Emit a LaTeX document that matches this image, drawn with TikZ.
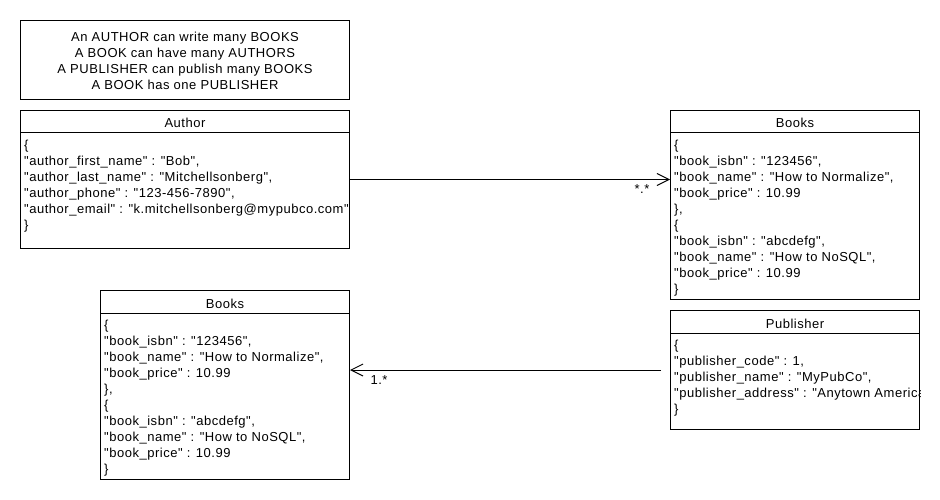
\documentclass[tikz,border=0pt]{standalone}
\usepackage{fontspec}
\setmainfont{Liberation Sans}[LetterSpace=4, Ligatures=TeXOff]
\usetikzlibrary{arrows.meta}
\newcommand{\toprow}{\rule{0pt}{12pt}}
\begin{document}
\begin{tikzpicture}[x=1pt, y=-1pt,
        every node/.style={font=\fontsize{13}{16}\selectfont},
        box/.style={draw, line width=1pt, anchor=north west, inner sep=0pt},
        title/.style={anchor=base, inner sep=0pt},
        body/.style={anchor=north west, align=left, inner sep=0pt},
        link/.style={line width=1pt, -{Straight Barb[length=12pt, width=12pt]}}]

      \useasboundingbox (0,0) rectangle (940,500);

      % Note
      \node[box, minimum width=329pt, minimum height=79pt] (note) at (20,20) {};
      \node[align=center, inner sep=0pt] (notetext) at ([yshift=-1pt]note.center)
        {An AUTHOR can write many BOOKS\\A BOOK can have many AUTHORS\\
         A PUBLISHER can publish many BOOKS\\A BOOK has one PUBLISHER};

      % Author
      \node[box, minimum width=329pt, minimum height=138pt] (author) at (20,110) {};
      \draw[line width=1pt] ([yshift=-23pt]author.north west) -- ([yshift=-23pt]author.north east);
      \node[title] (authortitle) at ([yshift=-18pt]author.north) {Author};
      \node[body] (authorbody) at ([xshift=4pt, yshift=-27pt]author.north west)
        {\toprow\{\\
         "author\_first\_name" : "Bob",\\
         "author\_last\_name" : "Mitchellsonberg",\\
         "author\_phone" : "123-456-7890",\\
         "author\_email" : "k.mitchellsonberg@mypubco.com"\\
         \}};

      % Books (right)
      \node[box, minimum width=249pt, minimum height=189pt] (booksR) at (670,110) {};
      \draw[line width=1pt] ([yshift=-23pt]booksR.north west) -- ([yshift=-23pt]booksR.north east);
      \node[title] (booksRtitle) at ([yshift=-18pt]booksR.north) {Books};
      \node[body] (booksRbody) at ([xshift=4pt, yshift=-27pt]booksR.north west)
        {\toprow\{\\
         "book\_isbn" : "123456",\\
         "book\_name" : "How to Normalize",\\
         "book\_price" : 10.99\\
         \},\\
         \{\\
         "book\_isbn" : "abcdefg",\\
         "book\_name" : "How to NoSQL",\\
         "book\_price" : 10.99\\
         \}};

      % Books (left)
      \node[box, minimum width=249pt, minimum height=189pt] (booksL) at (100,290) {};
      \draw[line width=1pt] ([yshift=-23pt]booksL.north west) -- ([yshift=-23pt]booksL.north east);
      \node[title] (booksLtitle) at ([yshift=-18pt]booksL.north) {Books};
      \node[body] (booksLbody) at ([xshift=4pt, yshift=-27pt]booksL.north west)
        {\toprow\{\\
         "book\_isbn" : "123456",\\
         "book\_name" : "How to Normalize",\\
         "book\_price" : 10.99\\
         \},\\
         \{\\
         "book\_isbn" : "abcdefg",\\
         "book\_name" : "How to NoSQL",\\
         "book\_price" : 10.99\\
         \}};

      % Publisher
      \node[box, minimum width=249pt, minimum height=119pt] (publisher) at (670,310) {};
      \draw[line width=1pt] ([yshift=-23pt]publisher.north west) -- ([yshift=-23pt]publisher.north east);
      \node[title] (publishertitle) at ([yshift=-18pt]publisher.north) {Publisher};
      \begin{scope}
        \clip (publisher.north west) rectangle (publisher.south east);
        \node[body] (publisherbody) at ([xshift=4pt, yshift=-27pt]publisher.north west)
          {\toprow\{\\
           "publisher\_code" : 1,\\
           "publisher\_name" : "MyPubCo",\\
           "publisher\_address" : "Anytown America"\\
           \}};
      \end{scope}

      % Connections
      \draw[link] (author.east) -- (author.east -| booksR.west);
      \node[inner sep=0pt] (multR) at (642,189) {*.*};
      \draw[link] ([xshift=-9pt]publisher.west) -- (publisher.west -| booksL.east);
      \node[inner sep=0pt] (multL) at (379,380) {1.*};
    \end{tikzpicture}
\end{document}
